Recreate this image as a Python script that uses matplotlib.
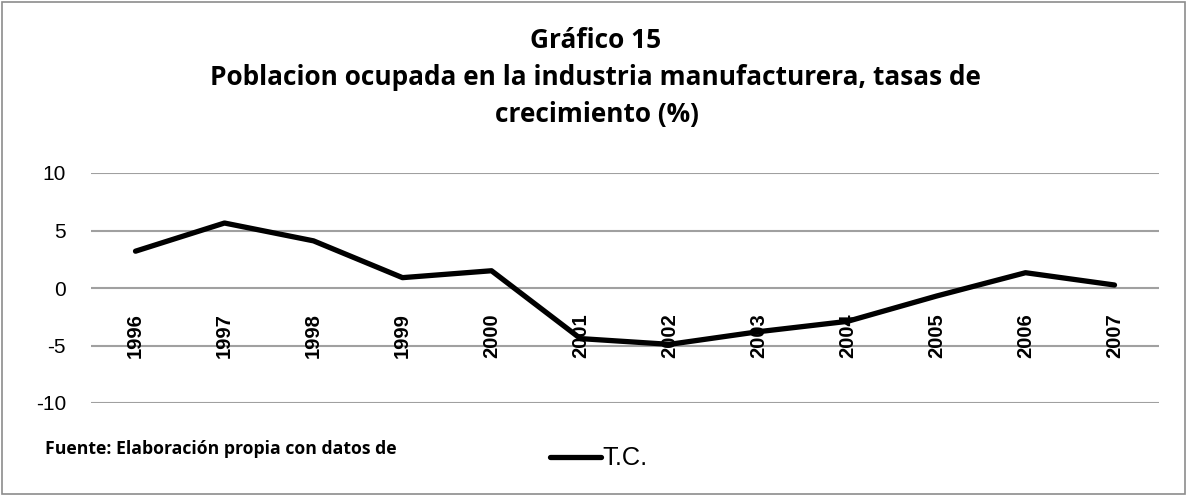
import numpy as np
import matplotlib.pyplot as plt
from matplotlib.patches import Rectangle
from matplotlib.lines import Line2D

years = ["1996", "1997", "1998", "1999", "2000", "2001",
         "2002", "2003", "2004", "2005", "2006", "2007"]
tc = [3.2, 5.65, 4.1, 0.9, 1.5, -4.4, -4.9, -3.8, -2.9, -0.7, 1.33, 0.26]
yticks = [-10, -5, 0, 5, 10]

title_lines = ["Gráfico 15",
               "Poblacion ocupada en la industria manufacturera, tasas de",
               "crecimiento (%)"]
fuente = "Fuente: Elaboración propia con datos de"

W, H = 1187, 495
fig = plt.figure(figsize=(W / 100, H / 100), dpi=100)
ax = fig.add_axes([91 / W, 1 - 403 / H, (1159 - 91) / W, (403 - 173) / H])
renderer = fig.canvas.get_renderer()


def fit_width(t, px):
    # scale font so the text spans px pixels
    bb = t.get_window_extent(renderer)
    t.set_fontsize(t.get_fontsize() * px / bb.width)


x = np.arange(len(years))
ax.plot(x, tc, color="black", lw=3.8, solid_capstyle="round", zorder=3)

ax.set_xlim(-0.5, len(years) - 0.5)
ax.set_ylim(-10, 10)
ax.set_yticks(yticks)
ax.set_yticklabels([str(v) for v in yticks], fontsize=15,
                   family=["Liberation Sans", "DejaVu Sans"])
ax.tick_params(axis="y", length=0, pad=18)
ax.set_xticks([])
ax.grid(axis="y", color="#a0a0a0", lw=1.5)
ax.set_axisbelow(True)
for s in ax.spines.values():
    s.set_visible(False)

for i, yr in enumerate(years):
    ax.annotate(yr, (i, 0), xytext=(0, -18), textcoords="offset points",
                rotation=90, ha="center", va="top", fontsize=14.5,
                fontweight="bold", family=["Liberation Sans", "DejaVu Sans"],
                zorder=2)

# title, three centred lines
tfont = ["Open Sans", "DejaVu Sans"]
t2 = fig.text(595 / W, 1 - 85 / H, title_lines[1], ha="center", va="baseline",
              fontsize=18, fontweight="bold", family=tfont)
fit_width(t2, 774)
fs = t2.get_fontsize()
fig.text(596 / W, 1 - 48 / H, title_lines[0], ha="center", va="baseline",
         fontsize=fs, fontweight="bold", family=tfont)
fig.text(597 / W, 1 - 122 / H, title_lines[2], ha="center", va="baseline",
         fontsize=fs, fontweight="bold", family=tfont)

tf = fig.text(45 / W, 1 - 454 / H, fuente, ha="left", va="baseline",
              fontsize=12, fontweight="bold", family=tfont)
fit_width(tf, 352)

# legend
fig.add_artist(Line2D([550 / W, 601 / W], [1 - 457 / H] * 2,
                      color="black", lw=3.8, solid_capstyle="round"))
tl = fig.text(602 / W, 1 - 465 / H, "T.C.", ha="left", va="baseline",
              fontsize=16, family=["Liberation Sans Narrow", "Liberation Sans"])
fit_width(tl, 45)

fig.add_artist(Rectangle((0.002, 0.002), 0.996, 0.994, transform=fig.transFigure,
                         fill=False, edgecolor="#8c8c8c", lw=1.2))

fig.savefig("out.png", dpi=100)
